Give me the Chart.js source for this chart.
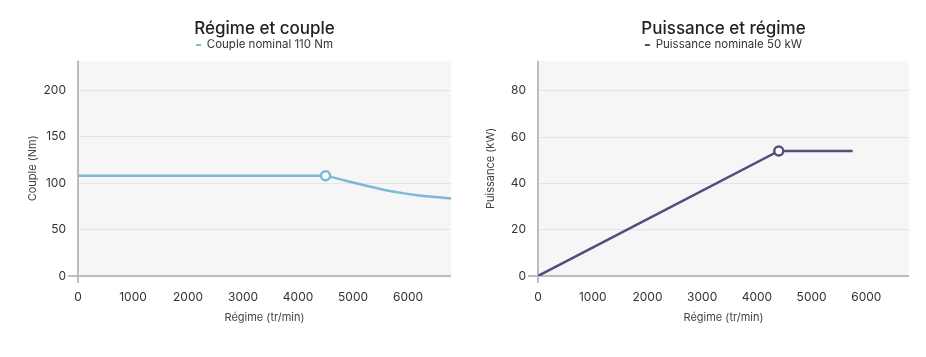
<!DOCTYPE html>
<html>
<head>
<meta charset="utf-8">
<script src="https://cdn.jsdelivr.net/npm/chart.js@4/dist/chart.umd.min.js"></script>
<style>
  html, body { margin: 0; padding: 0; background: #ffffff; }
  #wrap { position: relative; width: 926px; height: 357px; }
  canvas { position: absolute; top: 0; }
  #c1 { left: 0; }
  #c2 { left: 463px; }
</style>
</head>
<body>
<div id="wrap">
  <canvas id="c1" width="463" height="357"></canvas>
  <canvas id="c2" width="463" height="357"></canvas>
</div>
<script>
// ---------- data ----------
const torqueTitle = 'Régime et couple';
const torqueLegend = 'Couple nominal 110 Nm';
const torqueYTitle = 'Couple (Nm)';
const torqueRpm = [0, 4500, 4650, 5000, 5300, 5600, 5900, 6200, 6500, 6780];
const torqueNm  = [108, 108, 106, 100.8, 96.5, 92.5, 89.3, 86.8, 85.0, 83.6];
const torqueKneeIndex = 1;
const torqueYTicks = [0, 50, 100, 150, 200];
const torqueYMax = 232;

const powerTitle = 'Puissance et régime';
const powerLegend = 'Puissance nominale 50 kW';
const powerYTitle = 'Puissance (kW)';
const powerRpm = [0, 4400, 5750];
const powerKw  = [0, 54, 54];
const powerKneeIndex = 1;
const powerYTicks = [0, 20, 40, 60, 80];
const powerYMax = 93;

const xTitle = 'Régime (tr/min)';
const xTicks = [0, 1000, 2000, 3000, 4000, 5000, 6000];
const xTickLabels = ['0', '1000', '2000', '3000', '4000', '5000', '6000'];
const xMax = 6780;

// ---------- style ----------
const FONT = 'Inter, "Open Sans", sans-serif';
const torqueColor = '#7bbad5';
const powerColor = '#584b7f';

const plotDecor = {
  id: 'plotDecor',
  beforeDraw(chart) {
    const {ctx, chartArea: a} = chart;
    ctx.save();
    ctx.fillStyle = '#f6f6f6';
    ctx.fillRect(a.left, a.top, a.right - a.left, a.bottom - a.top);
    ctx.restore();
  },
  beforeDatasetsDraw(chart) {
    const {ctx, chartArea: a} = chart;
    ctx.save();
    ctx.strokeStyle = '#a9a9a9';
    ctx.lineWidth = 1.5;
    ctx.beginPath();
    ctx.moveTo(a.left, a.top);
    ctx.lineTo(a.left, a.bottom + 7);
    ctx.stroke();
    ctx.strokeStyle = '#bdbdbd';
    ctx.lineWidth = 2;
    ctx.beginPath();
    ctx.moveTo(a.left - 10, a.bottom);
    ctx.lineTo(a.right, a.bottom);
    ctx.stroke();
    ctx.restore();
  }
};

function makeChart(id, o) {
  const points = o.xs.map((x, i) => ({x: x, y: o.ys[i]}));
  return new Chart(document.getElementById(id), {
    type: 'line',
    data: {
      datasets: [{
        label: o.legend,
        data: points,
        borderColor: o.color,
        backgroundColor: o.color,
        borderWidth: 2.5,
        fill: false,
        cubicInterpolationMode: o.smooth ? 'monotone' : 'default',
        tension: 0,
        pointRadius: ctx => ctx.dataIndex === o.knee ? 4.5 : 0,
        pointHoverRadius: 0,
        pointBackgroundColor: '#ffffff',
        pointBorderColor: o.color,
        pointBorderWidth: 2.5
      }]
    },
    options: {
      responsive: false,
      animation: false,
      devicePixelRatio: 1,
      layout: { padding: { top: 10, left: o.padLeft, right: o.padRight, bottom: 33 } },
      plugins: {
        tooltip: { enabled: false },
        title: {
          display: true,
          text: o.title,
          fullSize: false,
          color: '#222222',
          font: { family: FONT, size: 17, weight: '500' },
          padding: { top: 8.8, bottom: 0 }
        },
        legend: {
          display: true,
          position: 'top',
          fullSize: false,
          labels: {
            color: '#333333',
            font: { family: FONT, size: 11.5 },
            boxWidth: 5,
            boxHeight: 2,
            padding: 0,
            generateLabels(chart) {
              const items = Chart.defaults.plugins.legend.labels.generateLabels(chart);
              items.forEach(it => { it.lineWidth = 0; it.fillStyle = o.color; it.strokeStyle = 'rgba(0,0,0,0)'; });
              return items;
            }
          }
        }
      },
      scales: {
        x: {
          type: 'linear',
          min: 0,
          max: xMax,
          afterBuildTicks(s) { s.ticks = xTicks.map(v => ({value: v})); },
          afterFit(s) { s.height = 357 - 33 - 276; },
          grid: { display: false, drawTicks: false },
          border: { display: false },
          ticks: {
            autoSkip: false, maxRotation: 0, minRotation: 0,
            padding: 14,
            color: '#333333',
            font: { family: FONT, size: 12 },
            callback: (v) => { const i = xTicks.indexOf(v); return i >= 0 ? xTickLabels[i] : ''; }
          },
          title: {
            display: true, text: xTitle, color: '#444444',
            font: { family: FONT, size: 11 }, padding: 0
          }
        },
        y: {
          type: 'linear',
          min: 0,
          max: o.yMax,
          afterBuildTicks(s) { s.ticks = o.yTicks.map(v => ({value: v})); },
          afterFit(s) { s.width = o.axisLeft - o.padLeft; },
          grid: { color: '#e4e4e4', lineWidth: 1, drawTicks: false },
          border: { display: false },
          ticks: {
            padding: 12,
            color: '#333333',
            font: { family: FONT, size: 12 },
            callback: (v) => String(v)
          },
          title: {
            display: true, text: o.yTitle, color: '#444444',
            font: { family: FONT, size: 11 }, padding: 0
          }
        }
      }
    },
    plugins: [plotDecor]
  });
}

makeChart('c1', {
  title: torqueTitle, legend: torqueLegend, yTitle: torqueYTitle,
  xs: torqueRpm, ys: torqueNm, knee: torqueKneeIndex,
  yTicks: torqueYTicks, yMax: torqueYMax,
  color: torqueColor, smooth: true,
  padLeft: 26, padRight: 12, axisLeft: 78
});
makeChart('c2', {
  title: powerTitle, legend: powerLegend, yTitle: powerYTitle,
  xs: powerRpm, ys: powerKw, knee: powerKneeIndex,
  yTicks: powerYTicks, yMax: powerYMax,
  color: powerColor, smooth: false,
  padLeft: 21.5, padRight: 17, axisLeft: 75
});
</script>
</body>
</html>
